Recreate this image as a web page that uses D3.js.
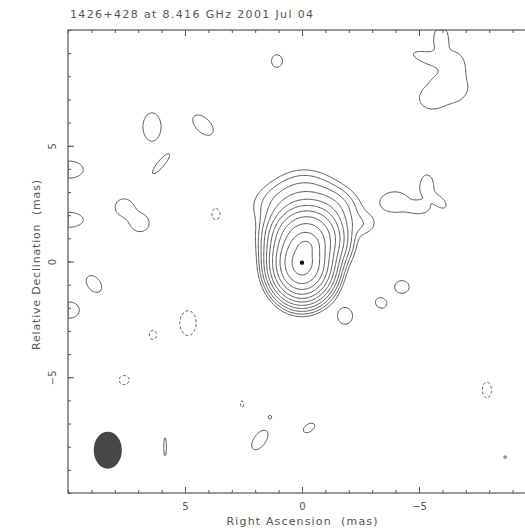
<!DOCTYPE html>
<html>
<head>
<meta charset="utf-8">
<script src="https://cdn.jsdelivr.net/npm/d3@7"></script>
<style>
  body { margin: 0; background: #fff; }
  svg { display: block; }
</style>
</head>
<body>
<div id="chart"></div>
<script>
// VLBI contour map of 1426+428, drawn with d3.contours

// Text
const titleText = "1426+428 at 8.416 GHz 2001 Jul 04";
const xLabelText = "Right Ascension  (mas)";
const yLabelText = "Relative Declination  (mas)";

// Axis ticks (mas)
const majorTicks = [5, 0, -5];
const minorTicks = [-10, -9, -8, -7, -6, -5, -4, -3, -2, -1, 0, 1, 2, 3, 4, 5, 6, 7, 8, 9, 10];

// Contour levels (multiples of the lowest level)
const levels = [1, 2, 4, 8, 16, 32, 64, 128, 256, 512, 1024];
const negLevels = [1];

// Source model components: [RA mas, Dec mas, peak, sigma major, sigma minor, angle deg]
const sourceComponents = [
  [0.0, -0.1, 1400, 0.5, 0.6, 0],
  [-0.2, 0.7, 330, 0.3, 0.25, 0],
  [-0.2, 1.0, 420, 0.62, 0.58, 0],
  [-0.1, 2.4, 10, 1.0, 0.6, 0],
  [-1.2, 2.1, 5, 0.6, 0.5, 0],
  [-0.1, 3.4, 1.4, 0.7, 0.45, 0],
  [-2.6, 1.6, 1.5, 0.45, 0.35, 0]
];

// Weak positive patches at the lowest level
const positivePatches = [
  [6.41, 5.81, 1.6, 0.4, 0.63, 0],
  [4.23, 5.89, 1.6, 0.55, 0.32, 45],
  [6.03, 4.21, 1.6, 0.55, 0.14, 130],
  [9.95, 3.97, 1.6, 0.62, 0.38, 0],
  [9.95, 1.8, 1.6, 0.62, 0.33, 0],
  [7.61, 2.35, 1.6, 0.38, 0.36, 0],
  [6.92, 1.66, 1.6, 0.4, 0.38, 0],
  [8.89, -0.97, 1.6, 0.42, 0.28, 52],
  [9.95, -2.1, 1.6, 0.45, 0.36, 0],
  [1.07, 8.66, 1.6, 0.24, 0.28, 0],
  [-5.94, 9.6, 1.6, 0.32, 0.55, 0],
  [-5.3, 8.82, 1.6, 0.55, 0.2, 16],
  [-6.55, 8.55, 1.6, 0.3, 0.4, 0],
  [-6.25, 7.5, 1.6, 0.85, 0.68, 0],
  [-5.5, 7.0, 1.6, 0.33, 0.28, 0],
  [-3.97, 2.57, 1.6, 0.62, 0.45, 0],
  [-5.34, 3.3, 1.6, 0.28, 0.45, 0],
  [-5.9, 2.57, 1.6, 0.32, 0.18, 45],
  [-5.04, 2.31, 1.6, 0.35, 0.2, 0],
  [-4.27, -1.1, 1.6, 0.32, 0.28, 0],
  [-3.38, -1.79, 1.6, 0.26, 0.22, 30],
  [-1.84, -2.35, 1.6, 0.33, 0.37, 0],
  [-0.3, -7.19, 1.6, 0.28, 0.17, 145],
  [1.8, -7.71, 1.6, 0.5, 0.26, 125],
  [1.37, -6.72, 1.6, 0.07, 0.07, 0],
  [5.85, -8.0, 1.6, 0.06, 0.42, 0],
  [-8.68, -8.45, 1.6, 0.06, 0.06, 0]
];

// Weak negative patches (dashed)
const negativePatches = [
  [4.87, -2.66, 1.6, 0.36, 0.55, 0],
  [6.37, -3.17, 1.6, 0.16, 0.2, 0],
  [3.68, 2.05, 1.6, 0.18, 0.25, 0],
  [-7.9, -5.55, 1.6, 0.2, 0.35, 0],
  [2.56, -6.16, 1.6, 0.07, 0.15, 0],
  [7.6, -5.12, 1.6, 0.22, 0.2, 0]
];

// Restoring beam: [major FWHM mas, minor FWHM mas, PA deg] and peak position
const beam = [1.6, 1.2, 0];
const peakPosition = [0.0, -0.05];

(function() {
  "use strict";

  const width = 525;
  const height = 530;
  const ink = "#555";
  const fontFamily = "'DejaVu Sans', 'Liberation Sans', sans-serif";

  // map extent in mas (RA increases to the left)
  const extent = 10;
  const x = d3.scaleLinear().domain([extent, -extent]).range([68, 536]);
  const y = d3.scaleLinear().domain([extent, -extent]).range([30, 493]);

  // sample the model on a regular grid
  const step = 0.05;
  const n = Math.round(2 * extent / step);
  const main = new Float64Array(n * n);
  const pos = new Float64Array(n * n);
  const neg = new Float64Array(n * n);

  function addComponent(grid, c) {
    const [ra0, dec0, peak, sx, sy, angle] = c;
    const t = angle * Math.PI / 180, ct = Math.cos(t), st = Math.sin(t);
    const reach = 5 * Math.max(sx, sy);
    const i0 = Math.max(0, Math.floor((extent - ra0 - reach) / step));
    const i1 = Math.min(n - 1, Math.ceil((extent - ra0 + reach) / step));
    const j0 = Math.max(0, Math.floor((extent - dec0 - reach) / step));
    const j1 = Math.min(n - 1, Math.ceil((extent - dec0 + reach) / step));
    for (let j = j0; j <= j1; j++) {
      const dy = extent - (j + 0.5) * step - dec0;
      for (let i = i0; i <= i1; i++) {
        const dx = extent - (i + 0.5) * step - ra0;
        const u = dx * ct + dy * st;
        const v = -dx * st + dy * ct;
        grid[j * n + i] += peak * Math.exp(-0.5 * (u * u / (sx * sx) + v * v / (sy * sy)));
      }
    }
  }

  sourceComponents.forEach(c => addComponent(main, c));
  positivePatches.forEach(c => addComponent(pos, c));
  negativePatches.forEach(c => addComponent(neg, c));

  // weak patches never reach the second level
  const field = new Float64Array(n * n);
  for (let k = 0; k < n * n; k++) {
    field[k] = main[k] + Math.min(pos[k], 1.9) - Math.min(neg[k], 1.9);
  }
  const negField = field.map(v => -v);

  const contours = d3.contours().size([n, n]).thresholds(levels)(field);
  const negContours = d3.contours().size([n, n]).thresholds(negLevels)(negField);

  // grid coordinates -> pixels through the scales
  const toPixels = d3.geoTransform({
    point(gx, gy) { this.stream.point(x(extent - gx * step), y(extent - gy * step)); }
  });
  const path = d3.geoPath(toPixels);

  const svg = d3.select("#chart").append("svg")
      .attr("width", width)
      .attr("height", height)
      .attr("font-family", fontFamily);

  svg.append("clipPath").attr("id", "plot-clip")
    .append("rect")
      .attr("x", x(extent)).attr("y", y(extent))
      .attr("width", x(-extent) - x(extent))
      .attr("height", y(-extent) - y(extent));

  const plot = svg.append("g").attr("clip-path", "url(#plot-clip)");

  plot.append("g")
      .attr("fill", "none")
      .attr("stroke", "#444")
      .attr("stroke-width", 0.9)
    .selectAll("path")
    .data(contours)
    .join("path")
      .attr("d", path);

  plot.append("g")
      .attr("fill", "none")
      .attr("stroke", "#444")
      .attr("stroke-width", 0.9)
      .attr("stroke-dasharray", "3,2")
    .selectAll("path")
    .data(negContours)
    .join("path")
      .attr("d", path);

  // beam in the lower-left corner
  plot.append("ellipse")
      .attr("cx", x(8.3))
      .attr("cy", y(-8.15))
      .attr("rx", Math.abs(x(beam[1] / 2) - x(0)))
      .attr("ry", Math.abs(y(beam[0] / 2) - y(0)))
      .attr("transform", `rotate(${-beam[2]},${x(8.3)},${y(-8.15)})`)
      .attr("fill", "#474747");

  // map peak
  plot.append("circle")
      .attr("cx", x(peakPosition[0]))
      .attr("cy", y(peakPosition[1]))
      .attr("r", 2.2)
      .attr("fill", "#111");

  // frame
  svg.append("rect")
      .attr("x", x(extent)).attr("y", y(extent))
      .attr("width", x(-extent) - x(extent))
      .attr("height", y(-extent) - y(extent))
      .attr("fill", "none")
      .attr("stroke", ink)
      .attr("stroke-width", 1.2);

  // ticks on all four sides, pointing inwards
  function tickAxis(axis, transform, values, size) {
    const g = svg.append("g")
        .attr("transform", transform)
        .style("color", ink)
        .call(axis.tickValues(values).tickSize(-size).tickSizeOuter(0).tickFormat(""));
    g.select(".domain").remove();
    return g;
  }
  tickAxis(d3.axisBottom(x), `translate(0,${y(-extent)})`, minorTicks, 3);
  tickAxis(d3.axisTop(x), `translate(0,${y(extent)})`, minorTicks, 3);
  tickAxis(d3.axisLeft(y), `translate(${x(extent)},0)`, minorTicks, 3);
  tickAxis(d3.axisRight(y), `translate(${x(-extent)},0)`, minorTicks, 3);
  tickAxis(d3.axisTop(x), `translate(0,${y(extent)})`, majorTicks, 6);
  tickAxis(d3.axisRight(y), `translate(${x(-extent)},0)`, majorTicks, 6);

  // labelled major ticks
  const xAxis = svg.append("g")
      .attr("transform", `translate(0,${y(-extent)})`)
      .style("color", ink)
      .call(d3.axisBottom(x).tickValues(majorTicks).tickSize(-6).tickSizeOuter(0).tickPadding(10))
      .attr("font-family", fontFamily)
      .attr("font-size", 10);
  xAxis.select(".domain").remove();

  const yAxis = svg.append("g")
      .attr("transform", `translate(${x(extent)},0)`)
      .style("color", ink)
      .call(d3.axisLeft(y).tickValues(majorTicks).tickSize(-6).tickSizeOuter(0))
      .attr("font-family", fontFamily)
      .attr("font-size", 10);
  yAxis.select(".domain").remove();
  yAxis.selectAll("text")
      .attr("x", null)
      .attr("dy", null)
      .attr("text-anchor", "middle")
      .attr("transform", "translate(-12,0) rotate(-90)");

  // title and axis labels
  svg.append("text")
      .attr("x", 70)
      .attr("y", 18)
      .attr("font-size", 11)
      .attr("fill", ink)
      .attr("textLength", 243)
      .text(titleText);

  svg.append("text")
      .attr("x", x(0))
      .attr("y", 525)
      .attr("text-anchor", "middle")
      .attr("font-size", 11)
      .attr("fill", ink)
      .attr("textLength", 151)
      .style("white-space", "pre")
      .text(xLabelText);

  svg.append("text")
      .attr("transform", `translate(40,${y(-0.15)}) rotate(-90)`)
      .attr("text-anchor", "middle")
      .attr("font-size", 11)
      .attr("fill", ink)
      .attr("textLength", 170)
      .style("white-space", "pre")
      .text(yLabelText);
})();
</script>
</body>
</html>
